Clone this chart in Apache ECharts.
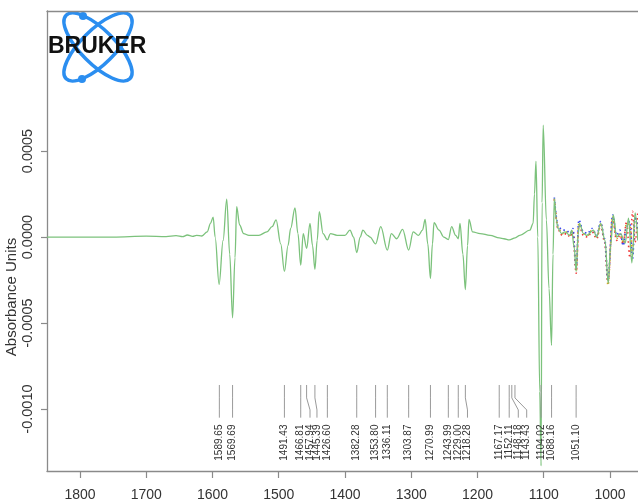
<!DOCTYPE html>
<html>
<head>
<meta charset="utf-8">
<script src="https://cdn.jsdelivr.net/npm/echarts@6/dist/echarts.min.js"></script>
<style>
  html, body { margin: 0; padding: 0; background: #fff; }
  #chart { width: 638px; height: 504px; }
</style>
</head>
<body>
<div id="chart"></div>
<script>
// Second-derivative IR spectrum, wavenumber (cm-1) vs absorbance units.
const wavenumbers = [
  1850, 1800, 1750, 1700, 1670, 1655, 1645, 1638, 1630, 1624, 1616, 1608, 1603, 1599,
  1596, 1590, 1584, 1578.5, 1574, 1569.7, 1566, 1563.5, 1559, 1553, 1545, 1530, 1518,
  1510, 1504, 1497, 1491.4, 1486, 1482, 1475.5, 1471, 1466.8, 1463, 1457.9, 1452.8,
  1449, 1445.4, 1442, 1438.8, 1433, 1426.6, 1422, 1412, 1400, 1392.5, 1387, 1382.3,
  1377, 1373, 1366, 1362, 1353.8, 1346, 1336.1, 1330, 1322, 1313, 1303.9, 1297, 1289,
  1283, 1279, 1275, 1271, 1268, 1265.6, 1258, 1251, 1244, 1239, 1233, 1229, 1226.4,
  1222, 1218.3, 1215, 1212.8, 1207.4, 1196, 1181, 1167, 1160, 1152, 1143, 1136, 1121,
  1116, 1114, 1111.7, 1109, 1106, 1104, 1102.5, 1100.8, 1096, 1092, 1088.2, 1086, 1084,
  1081, 1078.5, 1073, 1068, 1060.4, 1057.8, 1054, 1051.1, 1048, 1046, 1040, 1035, 1025,
  1020, 1014, 1007.5, 1002.6, 999, 995, 990, 984, 977, 972, 967, 962, 958
];
const absorbance = [
  0, 0, 0, 0.000005, 0.000003, 0.000008, 0.000002, 0.000012, 0.000004, 0.00001, 0.000006,
  0.00003, 0.00008, 0.000116,
  0, -0.000275, -0.00002, 0.00022, -0.0001, -0.00047, -0.00012, 0.000176, 0.00007, 0.00002,
  0.00001, 0.00001, 0.00003,
  0.00006, 0.0001, -0.00004, -0.0002, -0.00005, 0.00005, 0.00017, 0.00002, -0.000163,
  0.00002, -0.000066, 0.00008,
  -0.00005, -0.000188, -0.00002, 0.000147, 0.00002, -0.000017, 0.00002, 0.00001, 0.00001,
  0.00004, 0, -0.00009,
  0, 0.00004, 0.00001, 0, -0.00004, 0.00006, -0.000076, 0.00002, -0.00001, 0.000045,
  -0.000076, 0.00003, 0.00001,
  0.00004, 0.000103, -0.00004, -0.00024, -0.00004, 0.000083, 0.00004, 0, -0.000015,
  0.00006, 0.00001, -0.00001, 0.00008,
  -0.0001, -0.000305, -0.00005, 0.000103, 0.00003, 0.00002, 0.00001, -0.000005, -0.00001,
  -0.000017, -0.000005, 0.00001, 0.00004,
  0.00008, 0.00025, 0.00044, 0, -0.0009, -0.00133, 0.0002, 0.00065, 0.0001, -0.0003,
  -0.00063, -0.0001, 0.000225,
  0.0001, 0.00005, 0.00002, 0.00003, 0.00001, 0.00004, -0.00006, -0.0002, 0.00002, 0.00008,
  0.00002, 0.00001, 0.00004,
  0, 0.00008, -0.00002, -0.00027, -0.00005, 0.000128, 0, 0.00002, -0.000035, 0.00011,
  -0.00015, 0.00014, -0.00002
];

// Replicate traces, visible where they part from the main trace in the noisy low-wavenumber end.
const replicateWavenumbers = [
  1084, 1078, 1072, 1066, 1060, 1056, 1051, 1047, 1040, 1034, 1027, 1020, 1014, 1008,
  1003, 996, 990, 985, 980, 975, 970, 966, 962, 958
];
const redTrace = [
  0.00022, 0.00004, 0.00001, 0.00002, 0, 0.00003, -0.00021, 0.00007, 0.00001, 0, 0.00003,
  -0.00001, 0.00007, -0.00003, -0.00026, 0.00011, -0.00002, 0.00001, -0.00004, 0.00009,
  -0.00012, 0.00015, -0.00003, 0.00015
];
const blueTrace = [
  0.00023, 0.00006, 0.00004, 0.00004, 0.00002, 0.00005, -0.00018, 0.0001, 0.00003, 0.00002,
  0.00005, 0.00001, 0.00009, -0.00001, -0.00025, 0.00013, 0.00001, 0.00004, -0.00005,
  0.00006, 0.00009, -0.00013, 0.00011, 0.00005
];
const goldTrace = [
  0.00022, 0.00005, 0.00002, 0.00003, 0.00001, 0.00004, -0.0002, 0.00008, 0.00002, 0.00001,
  0.00004, 0, 0.00008, -0.00002, -0.00028, 0.00012, -0.00001, 0.00002, -0.00003, 0.00008,
  0.00007, -0.0001, 0.00012, 0.00002
];

// Annotated band positions (cm-1).
const peakLabels = [
  '1589.65', '1569.69', '1491.43', '1466.81', '1457.94', '1445.39', '1426.60', '1382.28',
  '1353.80', '1336.11', '1303.87', '1270.99', '1243.99', '1229.00', '1218.28', '1167.17',
  '1152.11', '1148.18', '1143.43', '1104.02', '1088.16', '1051.10'
];

const xTicks = [1000, 1100, 1200, 1300, 1400, 1500, 1600, 1700, 1800];
const yTicks = [-0.001, -0.0005, 0, 0.0005];

// Layout: crowded labels are shifted sideways, joined to their band by a bent leader.
const labelShift = {
  '1457.94': 1452.8, '1445.39': 1442.3, '1218.28': 1215.1,
  '1148.18': 1138.4, '1143.43': 1125.7
};
const leader = { top: -0.00086, bendA: -0.000935, bendB: -0.001005, bottom: -0.00105, text: -0.00109 };

const axisColor = '#8a8a8a';
const textFont = "'Liberation Sans', Arial, sans-serif";

const chart = echarts.init(document.getElementById('chart'), null, { renderer: 'canvas' });

const toPairs = (xs, ys) => xs.map((x, i) => [x, ys[i]]);

const labelData = peakLabels.map(s => {
  const p = parseFloat(s);
  return [p, labelShift[s] !== undefined ? labelShift[s] : p];
});

const replicateStyle = color => ({
  type: 'line', showSymbol: false, smooth: 0.35, smoothMonotone: 'x', z: 2,
  lineStyle: { color: color, width: 1.6, type: [1.5, 3] }
});

const option = {
  animation: false,
  backgroundColor: '#fff',
  grid: { left: 47, right: 0, top: 11, bottom: 33, containLabel: false },
  xAxis: [
    {
      type: 'value', inverse: true, min: 957.7, max: 1849.8, position: 'bottom',
      axisLine: { show: true, onZero: false, lineStyle: { color: axisColor, width: 1.3 } },
      axisTick: { show: true, length: 7, customValues: xTicks, lineStyle: { color: axisColor, width: 1.2 } },
      axisLabel: {
        customValues: xTicks, margin: 17, fontSize: 14, color: '#333',
        fontFamily: "'Liberation Sans Narrow', 'Liberation Sans', Arial, sans-serif",
        formatter: v => String(v)
      },
      splitLine: { show: false }
    },
    {
      type: 'value', inverse: true, min: 957.7, max: 1849.8, position: 'top',
      axisLine: { show: true, onZero: false, lineStyle: { color: axisColor, width: 1.3 } },
      axisTick: { show: false }, axisLabel: { show: false }, splitLine: { show: false }
    }
  ],
  yAxis: {
    type: 'value', min: -0.00136, max: 0.001314,
    axisLine: { show: true, onZero: false, lineStyle: { color: axisColor, width: 1.3 } },
    axisTick: { show: true, length: 6, customValues: yTicks, lineStyle: { color: axisColor, width: 1.2 } },
    axisLabel: {
      customValues: yTicks, rotate: 90, margin: 12, fontSize: 14.5, color: '#333',
      fontFamily: textFont, formatter: v => v.toFixed(4)
    },
    splitLine: { show: false }
  },
  series: [
    Object.assign(replicateStyle('#d9a21f'), { name: 'rep-gold', data: toPairs(replicateWavenumbers, goldTrace) }),
    Object.assign(replicateStyle('#f03a3a'), { name: 'rep-red', data: toPairs(replicateWavenumbers, redTrace) }),
    Object.assign(replicateStyle('#3a48f0'), { name: 'rep-blue', data: toPairs(replicateWavenumbers, blueTrace) }),
    {
      type: 'line', name: 'spectrum', data: toPairs(wavenumbers, absorbance),
      showSymbol: false, smooth: 0.35, smoothMonotone: 'x',
      lineStyle: { color: '#7cc27c', width: 1.3 }, z: 3
    },
    {
      type: 'custom', name: 'bands', coordinateSystem: 'cartesian2d', silent: true, z: 4,
      data: labelData,
      encode: { x: [0, 1] },
      renderItem: (params, api) => {
        const peak = api.value(0), slot = api.value(1);
        const a = api.coord([peak, leader.top]);
        const b = api.coord([peak, leader.bendA]);
        const c = api.coord([slot, leader.bendB]);
        const d = api.coord([slot, leader.bottom]);
        const t = api.coord([slot, leader.text]);
        return {
          type: 'group',
          children: [
            {
              type: 'polyline',
              shape: { points: [a, b, c, d] },
              style: { stroke: '#9a9a9a', lineWidth: 1, fill: null }
            },
            {
              type: 'text', x: t[0], y: t[1], rotation: Math.PI / 2,
              style: {
                text: peakLabels[params.dataIndex], align: 'right', verticalAlign: 'middle',
                fontSize: 10, fontFamily: textFont, fill: '#333'
              }
            }
          ]
        };
      }
    }
  ],
  graphic: [
    {
      type: 'text', x: 12, y: 297, rotation: Math.PI / 2,
      style: {
        text: 'Absorbance Units', align: 'center', verticalAlign: 'middle',
        fontSize: 15, fontFamily: textFont, fill: '#333'
      }
    },
    {
      type: 'ellipse', x: 98, y: 47, rotation: -Math.PI / 4,
      shape: { cx: 0, cy: 0, rx: 45, ry: 17 },
      style: { stroke: '#2b8ef0', lineWidth: 3.5, fill: null }
    },
    {
      type: 'ellipse', x: 98, y: 47, rotation: Math.PI / 4,
      shape: { cx: 0, cy: 0, rx: 45, ry: 17 },
      style: { stroke: '#2b8ef0', lineWidth: 3.5, fill: null }
    },
    { type: 'circle', shape: { cx: 83, cy: 16, r: 4 }, style: { fill: '#2b8ef0' } },
    { type: 'circle', shape: { cx: 82, cy: 79, r: 4 }, style: { fill: '#2b8ef0' } },
    {
      type: 'text', x: 48, y: 47,
      style: {
        text: 'BRUKER', align: 'left', verticalAlign: 'middle',
        fontSize: 23, fontWeight: 'bold', fontFamily: textFont, fill: '#111'
      }
    }
  ]
};

chart.setOption(option);
</script>
</body>
</html>
